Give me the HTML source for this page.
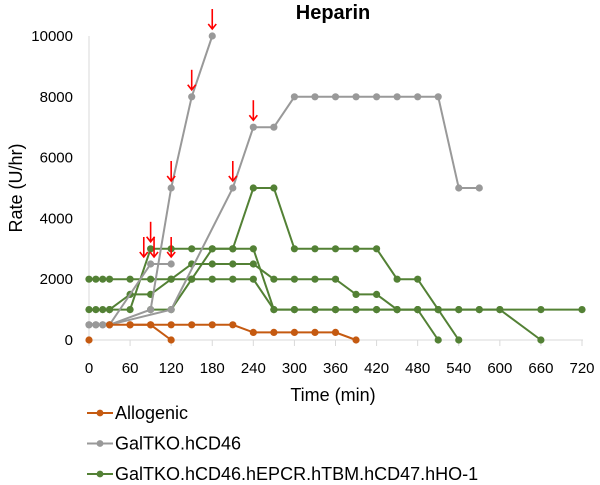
<!DOCTYPE html>
<html><head><meta charset="utf-8"><style>
body{margin:0;background:#fff}
svg text{font-family:"Liberation Sans",sans-serif}
</style></head><body>
<svg id="chart" width="600" height="480">
<text x="333" y="19" text-anchor="middle" font-size="20" font-weight="bold" fill="#000">Heparin</text>
<text transform="translate(22,188) rotate(-90)" text-anchor="middle" font-size="18" fill="#000">Rate (U/hr)</text>
<text x="333" y="401" text-anchor="middle" font-size="18" fill="#000">Time (min)</text>
<g id="axes"></g><g id="series"></g><g id="arrows"></g><g id="legend"></g>
</svg>
<script>
const xTicks=[0,60,120,180,240,300,360,420,480,540,600,660,720];
const yTicks=[0,2000,4000,6000,8000,10000];
const allo1X=[0];const allo1Y=[0];
const allo2X=[30,60,90,120,150,180,210,240,270,300,330,360,390];
const allo2Y=[500,500,500,500,500,500,500,250,250,250,250,250,0];
const allo3X=[60,90,120];const allo3Y=[500,500,0];
const gal1X=[0,10,20,30,90,120];const gal1Y=[500,500,500,500,2500,2500];
const gal2X=[30,90,120,150,180];const gal2Y=[500,1000,5000,8000,10000];
const gal3X=[0,10,20,30,120,210,240,270,300,330,360,390,420,450,480,510,540,570];
const gal3Y=[500,500,500,500,1000,5000,7000,7000,8000,8000,8000,8000,8000,8000,8000,8000,5000,5000];
const gr1X=[0,10,20,30,60,90,120,150,180,210,240,270,300,330,360,390,420,450,480,510];
const gr1Y=[2000,2000,2000,2000,2000,2000,2000,2000,2000,2000,2000,1000,1000,1000,1000,1000,1000,1000,1000,0];
const gr2X=[0,10,20,30,60,90,120,150,180,210,240,270,300,330,360,390,420,450,480,510,540,570,600,660,720];
const gr2Y=[1000,1000,1000,1000,1500,1500,2000,2500,2500,2500,2500,2000,2000,2000,2000,1500,1500,1000,1000,1000,1000,1000,1000,1000,1000];
const gr3X=[30,60,90,120,150,180,210,240,270,300,330,360,390,420,450,480,510,540,570,600,660];
const gr3Y=[1000,1000,3000,3000,3000,3000,3000,3000,1000,1000,1000,1000,1000,1000,1000,1000,1000,1000,1000,1000,0];
const gr4X=[90,120,150,180,210,240,270,300,330,360,390,420,450,480,510,540];
const gr4Y=[1000,1000,2000,3000,3000,5000,5000,3000,3000,3000,3000,3000,2000,2000,1000,0];
const arrowX=[80,95,120,90,120,150,180,210,240];
const arrowY=[2500,2500,2500,3000,5000,8000,10000,5000,7000];
const legendLabels=["Allogenic","GalTKO.hCD46","GalTKO.hCD46.hEPCR.hTBM.hCD47.hHO-1"];
const NS="http://www.w3.org/2000/svg";
const X=v=>89+v*(493/720), Y=v=>340-v*0.0304;
function mk(t,a,p){const e=document.createElementNS(NS,t);for(const k in a)e.setAttribute(k,a[k]);p.appendChild(e);return e;}
const ax=document.getElementById('axes');
let l=mk('line',{x1:89,y1:Y(10000),x2:89,y2:340,stroke:'#d9d9d9'},ax);


l=mk('line',{x1:89,y1:340,x2:X(720)+1,y2:340,stroke:'#d9d9d9'},ax);


xTicks.forEach(t=>{const k=mk('line',{x1:X(t),y1:340,x2:X(t),y2:346,stroke:'#d9d9d9'},ax);


const tx=mk('text',{x:X(t),y:373,'text-anchor':'middle','font-size':15},ax);tx.textContent=t;

});
yTicks.forEach(t=>{const tx=mk('text',{x:73,y:Y(t)+5,'text-anchor':'end','font-size':15},ax);tx.textContent=t;

});
const sg=document.getElementById('series');
function series(xs,ys,c,name){const g=mk('g',{},sg);


if(xs.length>1)mk('polyline',{points:xs.map((x,i)=>X(x)+','+Y(ys[i])).join(' '),fill:'none',stroke:c,'stroke-width':2},g);
xs.forEach((x,i)=>{const d=mk('circle',{cx:X(x),cy:Y(ys[i]),r:3.6,fill:c},g);

});}
const O='#c55a11',G='#999999',GR='#538135';
series(gr1X,gr1Y,GR,'hepcr-series-1');series(gr2X,gr2Y,GR,'hepcr-series-2');series(gr3X,gr3Y,GR,'hepcr-series-3');series(gr4X,gr4Y,GR,'hepcr-series-4');
series(gal1X,gal1Y,G,'galtko-series-1');series(gal2X,gal2Y,G,'galtko-series-2');series(gal3X,gal3Y,G,'galtko-series-3');
series(allo1X,allo1Y,O,'allogenic-series-1');series(allo2X,allo2Y,O,'allogenic-series-2');series(allo3X,allo3Y,O,'allogenic-series-3');
const ag=document.getElementById('arrows');
arrowX.forEach((x,i)=>{const g=mk('g',{stroke:'#ff0000','stroke-width':1.6,fill:'none'},ag);


const cx=X(x),ty=Y(arrowY[i])-7;
mk('line',{x1:cx,y1:ty-20,x2:cx,y2:ty},g);
mk('polyline',{points:(cx-4)+','+(ty-5)+' '+cx+','+ty+' '+(cx+4)+','+(ty-5)},g);});
const lg=document.getElementById('legend');
[O,G,GR].forEach((c,i)=>{const y=413+i*30.5;const g=mk('g',{},lg);


mk('line',{x1:87,y1:y,x2:113,y2:y,stroke:c,'stroke-width':2},g);
mk('circle',{cx:100,cy:y,r:3.4,fill:c},g);
const t=mk('text',{x:115,y:y+6,'font-size':18},g);t.textContent=legendLabels[i];});
</script>
</body></html>
